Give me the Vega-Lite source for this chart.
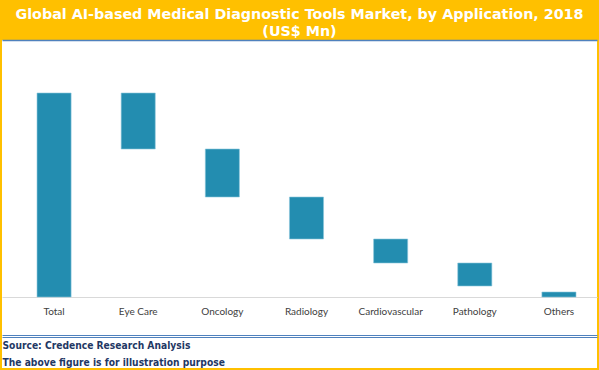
{
  "$schema": "https://vega.github.io/schema/vega-lite/v6.json",
  "width": 595,
  "height": 328,
  "autosize": {"type": "none"},
  "padding": {"left": 2, "top": 40, "right": 2, "bottom": 2},
  "background": "#FFC000",
  "title": {
    "text": ["Global AI-based Medical Diagnostic Tools Market, by Application, 2018", "(US$ Mn)"],
    "anchor": "middle",
    "frame": "group",
    "color": "#FFFFFF",
    "font": "DejaVu Sans",
    "fontWeight": "bold",
    "fontSize": 14.3,
    "lineHeight": 17,
    "baseline": "bottom",
    "offset": 3,
    "dy": 16
  },
  "config": {
    "view": {"fill": "#FFFFFF", "stroke": null}
  },
  "data": {
    "values": [
      {"category": "Total", "start": 0, "end": 204},
      {"category": "Eye Care", "start": 204, "end": 148},
      {"category": "Oncology", "start": 148, "end": 100},
      {"category": "Radiology", "start": 100, "end": 58},
      {"category": "Cardiovascular", "start": 58, "end": 34},
      {"category": "Pathology", "start": 34, "end": 11},
      {"category": "Others", "start": 5, "end": 0}
    ]
  },
  "encoding": {
    "x": {
      "field": "category",
      "type": "nominal",
      "sort": null,
      "scale": {"paddingInner": 0.595, "paddingOuter": 0.333, "align": 0.625}
    },
    "y": {
      "field": "start",
      "type": "quantitative",
      "scale": {"domain": [-71, 257], "nice": false, "zero": false},
      "axis": null
    },
    "y2": {"field": "end"}
  },
  "layer": [
    {
      "mark": {"type": "bar", "color": "#238DB0", "stroke": "#8CC6DB", "strokeWidth": 0.6},
      "encoding": {
        "x": {
          "field": "category",
          "type": "nominal",
          "sort": null,
          "axis": {
            "orient": "bottom",
            "offset": -71,
            "title": null,
            "domainColor": "#D9D9D9",
            "domainWidth": 1,
            "ticks": false,
            "tickSize": 0,
            "labelPadding": 9,
            "labelAngle": 0,
            "labelFont": "Lato",
            "labelFontSize": 10,
            "labelColor": "#404040"
          }
        }
      }
    },
    {
      "mark": {"type": "bar", "opacity": 0},
      "encoding": {
        "x": {
          "field": "category",
          "type": "nominal",
          "sort": null,
          "axis": {
            "orient": "top",
            "title": null,
            "labels": false,
            "ticks": false,
            "tickSize": 0,
            "domainColor": "#4F81BD",
            "domainWidth": 1.5
          }
        }
      }
    },
    {
      "mark": {"type": "bar", "opacity": 0},
      "encoding": {
        "x": {
          "field": "category",
          "type": "nominal",
          "sort": null,
          "axis": {
            "orient": "bottom",
            "offset": -33,
            "labels": false,
            "ticks": false,
            "tickSize": 0,
            "domainColor": "#4F81BD",
            "domainWidth": 1,
            "title": ["Source: Credence Research Analysis", "The above figure is for illustration purpose"],
            "titleAnchor": "start",
            "titleAlign": "left",
            "titleBaseline": "top",
            "titlePadding": 5,
            "titleFont": "DejaVu Sans Condensed",
            "titleFontWeight": "bold",
            "titleFontSize": 10.2,
            "titleLineHeight": 17,
            "titleColor": "#1F3864"
          }
        }
      }
    },
    {
      "mark": {"type": "bar", "opacity": 0},
      "encoding": {
        "x": {
          "field": "category",
          "type": "nominal",
          "sort": null,
          "axis": {
            "orient": "bottom",
            "offset": -31,
            "title": null,
            "labels": false,
            "ticks": false,
            "tickSize": 0,
            "domainColor": "#4F81BD",
            "domainWidth": 1
          }
        }
      }
    }
  ],
  "resolve": {"axis": {"x": "independent"}}
}
